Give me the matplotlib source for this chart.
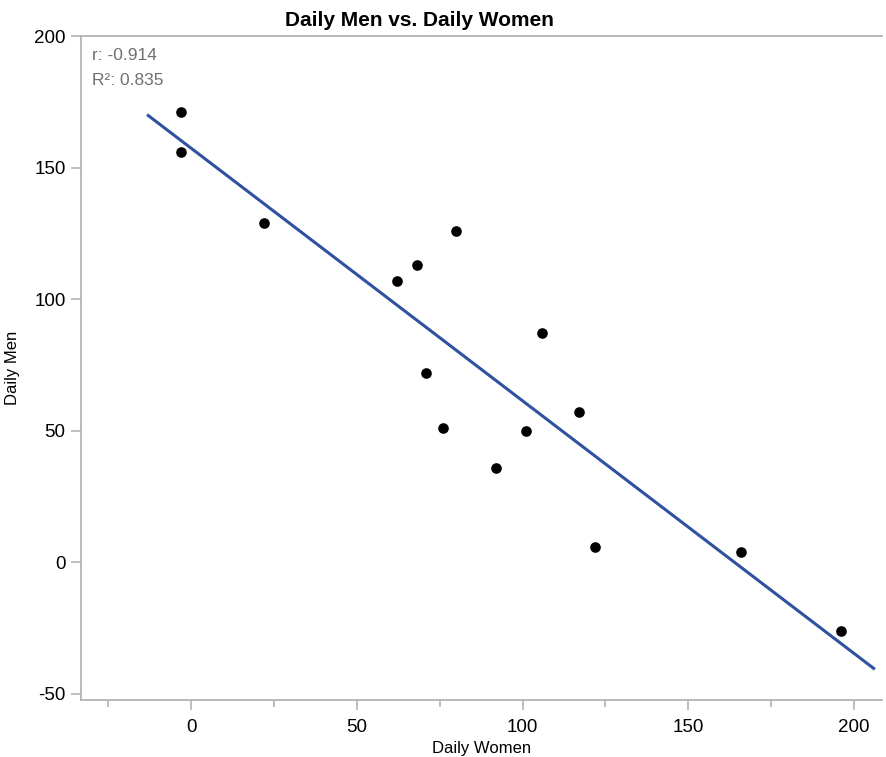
import numpy as np
import matplotlib.pyplot as plt

plt.rcParams['font.family'] = ['Liberation Sans', 'DejaVu Sans']
plt.rcParams['axes.unicode_minus'] = False

daily_women = [-3, -3, 22, 62, 68, 80, 71, 76, 106, 101, 117, 92, 122, 166, 196]
daily_men = [171, 156, 129, 107, 113, 126, 72, 51, 87, 50, 57, 36, 6, 4, -26]
fit_range = [-13, 206]
x_ticks = [0, 50, 100, 150, 200]
y_ticks = [-50, 0, 50, 100, 150, 200]

fig = plt.figure(figsize=(8.86, 7.57), dpi=100)
ax = fig.add_axes([0.0914, 0.0753, 0.904, 0.877])

slope, intercept = np.polyfit(daily_women, daily_men, 1)
xs = np.array(fit_range)
ax.plot(xs, slope * xs + intercept, color='#2f52a0', lw=2.2, zorder=2)
ax.scatter(daily_women, daily_men, s=44, color='black', zorder=3)

ax.set_xlim(-33.3, 208.5)
ax.set_ylim(-52.3, 200)
ax.set_xticks(x_ticks)
ax.set_xticks([-25, 25, 75, 125, 175], minor=True)
ax.set_yticks(y_ticks)

grey = '#b4b4b4'
for s in ['left', 'bottom', 'top']:
    ax.spines[s].set_color(grey)
    ax.spines[s].set_linewidth(1.3)
ax.spines['right'].set_visible(False)
ax.tick_params(which='both', direction='out', color=grey, width=1.2, labelsize=13.5)
ax.tick_params(which='major', length=7)
ax.tick_params(which='minor', length=5)
ax.tick_params(axis='x', pad=7)
ax.tick_params(axis='y', pad=4)

ax.text(0.014, 0.982, 'r: -0.914', transform=ax.transAxes, ha='left', va='top',
        fontsize=12.5, color='#707070')
ax.text(0.014, 0.945, 'R²: 0.835', transform=ax.transAxes, ha='left', va='top',
        fontsize=12.5, color='#707070')

ax.set_title('Daily Men vs. Daily Women', fontsize=15, fontweight='bold', pad=7, x=0.423)
ax.set_xlabel('Daily Women', fontsize=12, labelpad=3)
ax.set_ylabel('Daily Men', fontsize=12, labelpad=10)

fig.savefig('out.png', dpi=100)
